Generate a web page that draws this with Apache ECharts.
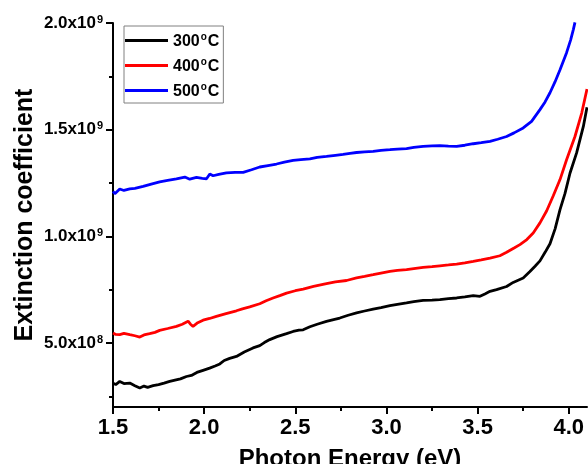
<!DOCTYPE html>
<html>
<head>
<meta charset="utf-8">
<script src="https://cdn.jsdelivr.net/npm/echarts@6/dist/echarts.min.js"></script>
<style>
  html, body { margin: 0; padding: 0; background: #fff; }
  #chart { width: 588px; height: 464px; }
</style>
</head>
<body>
<div id="chart"></div>
<script>
// photon energy (eV) and extinction coefficient (x1e9)
const energy300 = [1.500,1.515,1.537,1.560,1.592,1.620,1.647,1.670,1.690,1.720,1.750,1.780,1.811,1.840,1.870,1.903,1.930,1.960,1.994,2.030,2.060,2.086,2.110,2.140,2.177,2.220,2.268,2.305,2.330,2.360,2.400,2.452,2.488,2.520,2.543,2.580,2.620,2.671,2.710,2.744,2.790,2.836,2.880,2.927,2.970,3.019,3.060,3.110,3.150,3.201,3.250,3.293,3.340,3.385,3.430,3.476,3.513,3.540,3.568,3.604,3.659,3.695,3.750,3.787,3.815,3.842,3.870,3.897,3.925,3.952,3.979,4.007,4.043,4.080,4.100]
const ext300    = [0.312,0.305,0.320,0.310,0.312,0.300,0.289,0.298,0.292,0.300,0.305,0.312,0.320,0.326,0.332,0.343,0.348,0.362,0.372,0.382,0.392,0.402,0.418,0.428,0.437,0.458,0.477,0.488,0.502,0.516,0.530,0.544,0.554,0.560,0.562,0.576,0.588,0.601,0.610,0.617,0.630,0.641,0.650,0.659,0.666,0.675,0.681,0.688,0.694,0.700,0.701,0.703,0.708,0.711,0.716,0.722,0.719,0.730,0.742,0.750,0.765,0.784,0.805,0.835,0.860,0.885,0.925,0.965,1.035,1.125,1.200,1.297,1.391,1.515,1.605]

const energy400 = [1.500,1.515,1.537,1.560,1.592,1.620,1.647,1.670,1.701,1.730,1.756,1.800,1.848,1.880,1.912,1.925,1.939,1.965,1.994,2.030,2.067,2.120,2.177,2.210,2.250,2.305,2.340,2.378,2.415,2.452,2.500,2.543,2.600,2.671,2.720,2.781,2.836,2.880,2.927,2.970,3.019,3.060,3.110,3.160,3.201,3.250,3.293,3.340,3.385,3.430,3.476,3.520,3.568,3.622,3.659,3.700,3.732,3.770,3.805,3.842,3.879,3.915,3.952,3.988,4.034,4.071,4.100]
const ext400    = [0.547,0.540,0.539,0.545,0.539,0.534,0.528,0.538,0.544,0.550,0.559,0.568,0.578,0.588,0.602,0.588,0.578,0.595,0.607,0.615,0.625,0.638,0.651,0.660,0.669,0.684,0.698,0.711,0.722,0.734,0.745,0.753,0.765,0.778,0.786,0.793,0.805,0.812,0.820,0.828,0.836,0.840,0.844,0.850,0.854,0.858,0.862,0.866,0.870,0.876,0.883,0.890,0.898,0.909,0.925,0.945,0.961,0.985,1.016,1.063,1.120,1.190,1.266,1.359,1.468,1.578,1.690]

const energy500 = [1.500,1.510,1.537,1.560,1.592,1.620,1.665,1.710,1.756,1.800,1.848,1.894,1.921,1.958,1.990,2.013,2.031,2.049,2.080,2.122,2.170,2.214,2.260,2.305,2.350,2.397,2.440,2.488,2.530,2.580,2.620,2.671,2.720,2.762,2.800,2.836,2.880,2.927,2.970,3.019,3.060,3.110,3.150,3.201,3.250,3.293,3.340,3.385,3.430,3.476,3.520,3.568,3.610,3.659,3.700,3.750,3.796,3.842,3.870,3.897,3.925,3.952,3.988,4.010,4.025,4.034]
const ext500    = [1.211,1.200,1.222,1.215,1.222,1.225,1.234,1.245,1.255,1.262,1.269,1.278,1.268,1.276,1.272,1.270,1.292,1.284,1.290,1.297,1.300,1.300,1.312,1.325,1.332,1.339,1.348,1.356,1.360,1.363,1.370,1.375,1.380,1.384,1.389,1.393,1.396,1.398,1.403,1.406,1.409,1.411,1.417,1.422,1.424,1.425,1.423,1.422,1.427,1.434,1.439,1.445,1.455,1.468,1.485,1.508,1.539,1.594,1.630,1.673,1.725,1.781,1.861,1.920,1.969,2.003]

const seriesNames  = ['300°C', '400°C', '500°C']
const seriesColors = ['#000000', '#ff0000', '#0000ff']

const xMajorTicks = [1.5, 2.0, 2.5, 3.0, 3.5, 4.0]
const xMinorTicks = [1.75, 2.25, 2.75, 3.25, 3.75]
const yMajorTicks = [5e8, 1e9, 1.5e9, 2e9]
const yMinorTicks = [2.5e8, 7.5e8, 1.25e9, 1.75e9]

const FONT = "'Liberation Sans', Arial, sans-serif"

const toPairs = (xs, ys) => xs.map((x, i) => [x, ys[i] * 1e9])

// "1.5x10^9" style labels
const sciLabel = v => {
  const exp = Math.floor(Math.log10(v) + 1e-9)
  const mant = (v / Math.pow(10, exp)).toFixed(1)
  return `{m|${mant}x10}{e|${exp}}`
}

const axisLine = { show: true, onZero: false, lineStyle: { color: '#000', width: 2 } }

const chart = echarts.init(document.getElementById('chart'))
chart.setOption({
  animation: false,
  backgroundColor: '#fff',
  grid: { left: 113, top: 23, right: 1, bottom: 57, containLabel: false, outerBoundsMode: 'none' },
  legend: {
    orient: 'vertical',
    left: 124,
    top: 26,
    icon: 'rect',
    itemWidth: 43,
    itemHeight: 3,
    itemGap: 6,
    padding: [5, 4, 3, 1],
    borderColor: '#808080',
    borderWidth: 1,
    data: seriesNames,
    formatter: name => `{n|${name.replace('°C', '')}}{s|o}{n|C}`,
    textStyle: {
      rich: {
        n: { fontFamily: FONT, fontWeight: 'bold', fontSize: 16, lineHeight: 16, padding: [3, 0, 0, 0], color: '#000' },
        s: { fontFamily: FONT, fontWeight: 'bold', fontSize: 10, lineHeight: 10, verticalAlign: 'top', padding: [0, 1, 0, 1], color: '#000' },
      },
    },
  },
  xAxis: [
    {
      type: 'value',
      min: 1.5,
      max: 4.1,
      interval: 0.5,
      position: 'bottom',
      name: 'Photon Energy (eV)',
      nameLocation: 'middle',
      nameGap: 40,
      nameMoveOverlap: false,
      nameTextStyle: { fontFamily: FONT, fontWeight: 'bold', fontSize: 24, color: '#000' },
      axisLine,
      axisTick: { show: true, length: 7, lineStyle: { color: '#000', width: 2 }, customValues: xMajorTicks },
      axisLabel: {
        customValues: xMajorTicks,
        formatter: v => v.toFixed(1),
        fontFamily: FONT, fontWeight: 'bold', fontSize: 22, color: '#000', margin: 10,
      },
      splitLine: { show: false },
    },
    {
      // minor ticks only
      type: 'value',
      min: 1.5,
      max: 4.1,
      position: 'bottom',
      axisLine: { show: false },
      axisTick: { show: true, length: 4, lineStyle: { color: '#000', width: 2 }, customValues: xMinorTicks },
      axisLabel: { show: false },
      splitLine: { show: false },
    },
  ],
  yAxis: [
    {
      type: 'value',
      min: 2e8,
      max: 2e9,
      position: 'left',
      name: 'Extinction coefficient',
      nameLocation: 'middle',
      nameGap: 75,
      nameMoveOverlap: false,
      nameTextStyle: { fontFamily: FONT, fontWeight: 'bold', fontSize: 25, color: '#000' },
      axisLine,
      axisTick: { show: true, length: 7, lineStyle: { color: '#000', width: 2 }, customValues: yMajorTicks },
      axisLabel: {
        customValues: yMajorTicks,
        formatter: sciLabel,
        margin: 10,
        rich: {
          m: { fontFamily: FONT, fontWeight: 'bold', fontSize: 17, lineHeight: 18, color: '#000' },
          e: { fontFamily: FONT, fontWeight: 'bold', fontSize: 11, lineHeight: 11, verticalAlign: 'top', padding: [0, 0, 0, 1], color: '#000' },
        },
      },
      splitLine: { show: false },
    },
    {
      // minor ticks only
      type: 'value',
      min: 2e8,
      max: 2e9,
      position: 'left',
      axisLine: { show: false },
      axisTick: { show: true, length: 4, lineStyle: { color: '#000', width: 2 }, customValues: yMinorTicks },
      axisLabel: { show: false },
      splitLine: { show: false },
    },
  ],
  series: [
    [energy300, ext300],
    [energy400, ext400],
    [energy500, ext500],
  ].map(([xs, ys], i) => ({
    name: seriesNames[i],
    type: 'line',
    data: toPairs(xs, ys),
    showSymbol: false,
    symbol: 'none',
    clip: true,
    color: seriesColors[i],
    lineStyle: { color: seriesColors[i], width: 2.8 },
  })),
})
</script>
</body>
</html>
